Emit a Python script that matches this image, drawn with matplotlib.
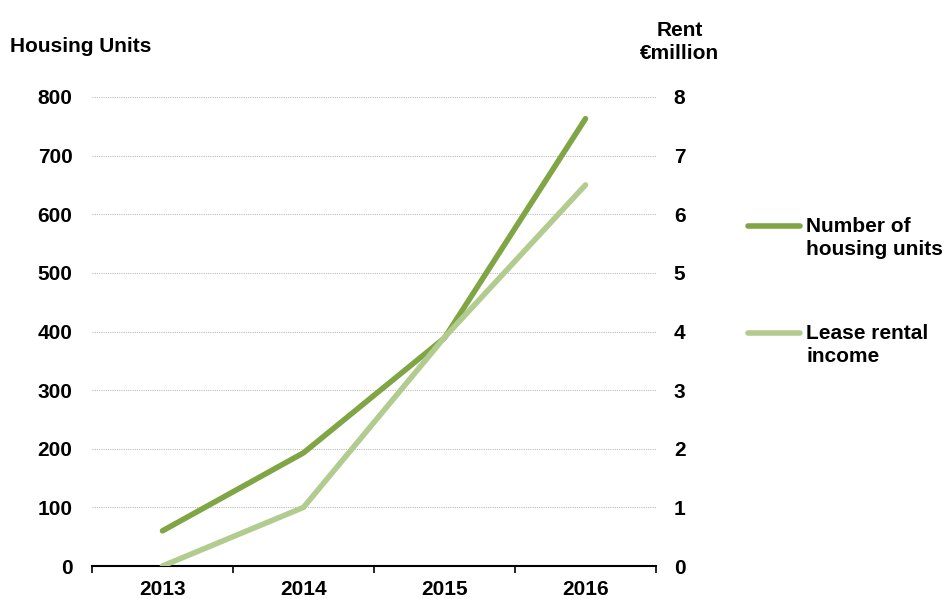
import matplotlib.pyplot as plt
from matplotlib.lines import Line2D
import numpy as np

plt.rcParams['font.family'] = ['Liberation Sans', 'DejaVu Sans']
plt.rcParams['font.weight'] = 'bold'

years = ['2013', '2014', '2015', '2016']
housing_units = [60, 193, 389, 763]
rent_million = [0, 1.0, 3.9, 6.5]
series_labels = ['Number of\nhousing units', 'Lease rental\nincome']

dark_green = '#7FA545'
light_green = '#B2CC8F'
fs = 15

fig = plt.figure(figsize=(9.48, 5.99), dpi=100)
ax = fig.add_axes([92 / 948, 1 - 566 / 599, (656 - 92) / 948, (566 - 97) / 599])
ax2 = ax.twinx()

x = np.arange(len(years))
ax.plot(x, housing_units, color=dark_green, lw=4, solid_capstyle='round', zorder=3)
ax2.plot(x, rent_million, color=light_green, lw=4, solid_capstyle='round', zorder=2)

ax.set_xlim(-0.5, 3.5)
ax.set_ylim(0, 800)
ax2.set_ylim(0, 8)
ax.set_yticks(range(0, 801, 100))
ax2.set_yticks(range(0, 9))

ax.set_xticks(x)
ax.set_xticklabels(years)
ax.set_xticks(np.arange(-0.5, 4, 1), minor=True)
ax.tick_params(axis='x', which='major', length=0, pad=10, labelsize=fs)
ax.tick_params(axis='x', which='minor', length=5, width=1.2, direction='out')
ax.tick_params(axis='y', length=0, pad=14, labelsize=fs)
ax2.tick_params(axis='y', length=0, pad=17, labelsize=fs)
for lab in ax2.get_yticklabels():
    lab.set_horizontalalignment('center')

for s in ['top', 'right', 'left']:
    ax.spines[s].set_visible(False)
    ax2.spines[s].set_visible(False)
ax2.spines['bottom'].set_visible(False)
ax.spines['bottom'].set_linewidth(1.5)

ax.yaxis.grid(True, color='#BBBBBB', linestyle=(0, (1, 1)), linewidth=0.8)
ax.set_axisbelow(True)

fig.text(10 / 948, 1 - 46 / 599, 'Housing Units', fontsize=fs, fontweight='bold',
         va='center', ha='left')
fig.text(680 / 948, 1 - 42 / 599, 'Rent\n\u20acmillion', fontsize=fs, fontweight='bold',
         va='center', ha='center', linespacing=1.25)

# legend drawn by hand so the key lines up with the first text line
legend_colors = [dark_green, light_green]
legend_tops = [226, 333]
for lab, col, ytop in zip(series_labels, legend_colors, legend_tops):
    yk = 1 - ytop / 599
    fig.add_artist(Line2D([748 / 948, 800 / 948], [yk, yk], color=col, lw=4,
                          solid_capstyle='round', transform=fig.transFigure))
    fig.text(806 / 948, yk + 9 / 599, lab, fontsize=fs, fontweight='bold',
             va='top', ha='left', linespacing=1.25)

fig.savefig('out.png', dpi=100)
